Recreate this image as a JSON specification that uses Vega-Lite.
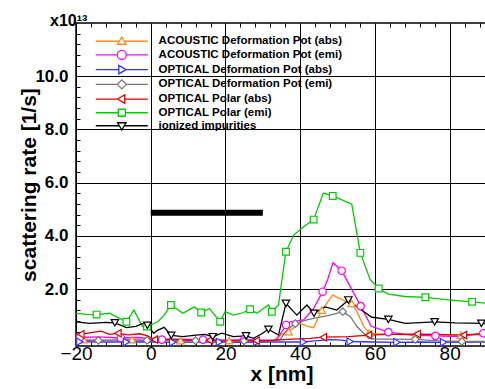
{
  "$schema": "https://vega.github.io/schema/vega-lite/v6.json",
  "width": 411,
  "height": 323,
  "autosize": "none",
  "padding": {"left": 76, "top": 23, "right": 0, "bottom": 43},
  "background": "white",
  "title": {"text": "x10¹³", "anchor": "start", "frame": "group", "dx": -26, "dy": 19, "offset": 0, "fontSize": 16, "fontWeight": "bold", "font": "Liberation Sans", "color": "black", "baseline": "alphabetic"},
  "config": {
    "view": {"stroke": "black", "strokeWidth": 1.5},
    "font": "Liberation Sans",
    "legend": {"orient": "none", "legendX": 39.8, "legendY": 12.25, "title": null, "padding": 0,
      "labelFont": "Liberation Sans", "labelFontSize": 11.5, "labelFontWeight": "bold", "labelColor": "black",
      "labelOffset": 30.8, "rowPadding": -0.3, "labelLimit": 0,
      "symbolSize": 100, "symbolStrokeWidth": 1.3, "symbolFillColor": "white"},
    "point": {"filled": false, "fill": "white", "fillOpacity": 1, "strokeWidth": 1.2, "size": 55, "opacity": 1}
  },
  "datasets": {
    "rates": [
      {"s": "ACOUSTIC Deformation Pot (abs)", "x": -20, "y": 0.1, "m": 0},
      {"s": "ACOUSTIC Deformation Pot (abs)", "x": -18, "y": 0.1, "m": 1},
      {"s": "ACOUSTIC Deformation Pot (abs)", "x": -12, "y": 0.08, "m": 0},
      {"s": "ACOUSTIC Deformation Pot (abs)", "x": -5, "y": 0.1, "m": 1},
      {"s": "ACOUSTIC Deformation Pot (abs)", "x": 0, "y": 0.08, "m": 0},
      {"s": "ACOUSTIC Deformation Pot (abs)", "x": 8, "y": 0.06, "m": 1},
      {"s": "ACOUSTIC Deformation Pot (abs)", "x": 15, "y": 0.07, "m": 0},
      {"s": "ACOUSTIC Deformation Pot (abs)", "x": 21, "y": 0.06, "m": 1},
      {"s": "ACOUSTIC Deformation Pot (abs)", "x": 28, "y": 0.07, "m": 0},
      {"s": "ACOUSTIC Deformation Pot (abs)", "x": 33, "y": 0.08, "m": 0},
      {"s": "ACOUSTIC Deformation Pot (abs)", "x": 35.5, "y": 0.34, "m": 0},
      {"s": "ACOUSTIC Deformation Pot (abs)", "x": 36.9, "y": 0.4, "m": 1},
      {"s": "ACOUSTIC Deformation Pot (abs)", "x": 38.7, "y": 0.59, "m": 0},
      {"s": "ACOUSTIC Deformation Pot (abs)", "x": 40, "y": 0.71, "m": 0},
      {"s": "ACOUSTIC Deformation Pot (abs)", "x": 42, "y": 0.6, "m": 0},
      {"s": "ACOUSTIC Deformation Pot (abs)", "x": 43.6, "y": 0.55, "m": 0},
      {"s": "ACOUSTIC Deformation Pot (abs)", "x": 45.8, "y": 1.21, "m": 1},
      {"s": "ACOUSTIC Deformation Pot (abs)", "x": 48.7, "y": 1.77, "m": 0},
      {"s": "ACOUSTIC Deformation Pot (abs)", "x": 50.5, "y": 1.65, "m": 0},
      {"s": "ACOUSTIC Deformation Pot (abs)", "x": 52.5, "y": 1.52, "m": 0},
      {"s": "ACOUSTIC Deformation Pot (abs)", "x": 53.8, "y": 1.46, "m": 1},
      {"s": "ACOUSTIC Deformation Pot (abs)", "x": 55.2, "y": 1.15, "m": 0},
      {"s": "ACOUSTIC Deformation Pot (abs)", "x": 57, "y": 0.6, "m": 0},
      {"s": "ACOUSTIC Deformation Pot (abs)", "x": 58.5, "y": 0.35, "m": 1},
      {"s": "ACOUSTIC Deformation Pot (abs)", "x": 60, "y": 0.32, "m": 0},
      {"s": "ACOUSTIC Deformation Pot (abs)", "x": 65, "y": 0.3, "m": 0},
      {"s": "ACOUSTIC Deformation Pot (abs)", "x": 71, "y": 0.28, "m": 1},
      {"s": "ACOUSTIC Deformation Pot (abs)", "x": 77, "y": 0.27, "m": 0},
      {"s": "ACOUSTIC Deformation Pot (abs)", "x": 83, "y": 0.27, "m": 1},
      {"s": "ACOUSTIC Deformation Pot (abs)", "x": 90, "y": 0.28, "m": 0},

      {"s": "ACOUSTIC Deformation Pot (emi)", "x": -20, "y": 0.18, "m": 0},
      {"s": "ACOUSTIC Deformation Pot (emi)", "x": -19, "y": 0.18, "m": 1},
      {"s": "ACOUSTIC Deformation Pot (emi)", "x": -14, "y": 0.2, "m": 0},
      {"s": "ACOUSTIC Deformation Pot (emi)", "x": -8, "y": 0.16, "m": 1},
      {"s": "ACOUSTIC Deformation Pot (emi)", "x": -3, "y": 0.18, "m": 0},
      {"s": "ACOUSTIC Deformation Pot (emi)", "x": 0, "y": 0.12, "m": 0},
      {"s": "ACOUSTIC Deformation Pot (emi)", "x": 3, "y": 0.1, "m": 1},
      {"s": "ACOUSTIC Deformation Pot (emi)", "x": 8, "y": 0.12, "m": 0},
      {"s": "ACOUSTIC Deformation Pot (emi)", "x": 14, "y": 0.1, "m": 1},
      {"s": "ACOUSTIC Deformation Pot (emi)", "x": 20, "y": 0.08, "m": 0},
      {"s": "ACOUSTIC Deformation Pot (emi)", "x": 25, "y": 0.1, "m": 1},
      {"s": "ACOUSTIC Deformation Pot (emi)", "x": 30, "y": 0.08, "m": 0},
      {"s": "ACOUSTIC Deformation Pot (emi)", "x": 33.7, "y": 0.09, "m": 0},
      {"s": "ACOUSTIC Deformation Pot (emi)", "x": 36.2, "y": 0.65, "m": 1},
      {"s": "ACOUSTIC Deformation Pot (emi)", "x": 37.3, "y": 0.77, "m": 0},
      {"s": "ACOUSTIC Deformation Pot (emi)", "x": 40.9, "y": 0.84, "m": 0},
      {"s": "ACOUSTIC Deformation Pot (emi)", "x": 43.5, "y": 1.25, "m": 0},
      {"s": "ACOUSTIC Deformation Pot (emi)", "x": 46, "y": 1.9, "m": 1},
      {"s": "ACOUSTIC Deformation Pot (emi)", "x": 47.3, "y": 2.34, "m": 0},
      {"s": "ACOUSTIC Deformation Pot (emi)", "x": 48.8, "y": 2.99, "m": 0},
      {"s": "ACOUSTIC Deformation Pot (emi)", "x": 51.1, "y": 2.69, "m": 1},
      {"s": "ACOUSTIC Deformation Pot (emi)", "x": 53.8, "y": 1.99, "m": 0},
      {"s": "ACOUSTIC Deformation Pot (emi)", "x": 56.2, "y": 1.36, "m": 1},
      {"s": "ACOUSTIC Deformation Pot (emi)", "x": 59, "y": 0.6, "m": 0},
      {"s": "ACOUSTIC Deformation Pot (emi)", "x": 63.6, "y": 0.38, "m": 1},
      {"s": "ACOUSTIC Deformation Pot (emi)", "x": 69.9, "y": 0.27, "m": 0},
      {"s": "ACOUSTIC Deformation Pot (emi)", "x": 76.2, "y": 0.24, "m": 1},
      {"s": "ACOUSTIC Deformation Pot (emi)", "x": 82.4, "y": 0.21, "m": 0},
      {"s": "ACOUSTIC Deformation Pot (emi)", "x": 89, "y": 0.34, "m": 1},
      {"s": "ACOUSTIC Deformation Pot (emi)", "x": 90, "y": 0.35, "m": 0},

      {"s": "OPTICAL Deformation Pot (abs)", "x": -20, "y": 0.02, "m": 0},
      {"s": "OPTICAL Deformation Pot (abs)", "x": -19, "y": 0.02, "m": 1},
      {"s": "OPTICAL Deformation Pot (abs)", "x": -12, "y": 0.01, "m": 0},
      {"s": "OPTICAL Deformation Pot (abs)", "x": -6.5, "y": 0.01, "m": 1},
      {"s": "OPTICAL Deformation Pot (abs)", "x": 0, "y": 0.02, "m": 0},
      {"s": "OPTICAL Deformation Pot (abs)", "x": 5.9, "y": 0.0, "m": 1},
      {"s": "OPTICAL Deformation Pot (abs)", "x": 12, "y": 0.01, "m": 0},
      {"s": "OPTICAL Deformation Pot (abs)", "x": 18.4, "y": 0.01, "m": 1},
      {"s": "OPTICAL Deformation Pot (abs)", "x": 24, "y": 0.0, "m": 0},
      {"s": "OPTICAL Deformation Pot (abs)", "x": 28.4, "y": 0.01, "m": 1},
      {"s": "OPTICAL Deformation Pot (abs)", "x": 35, "y": 0.01, "m": 0},
      {"s": "OPTICAL Deformation Pot (abs)", "x": 40.9, "y": 0.01, "m": 1},
      {"s": "OPTICAL Deformation Pot (abs)", "x": 44, "y": 0.05, "m": 0},
      {"s": "OPTICAL Deformation Pot (abs)", "x": 48, "y": 0.1, "m": 0},
      {"s": "OPTICAL Deformation Pot (abs)", "x": 51, "y": 0.08, "m": 0},
      {"s": "OPTICAL Deformation Pot (abs)", "x": 53.4, "y": 0.03, "m": 1},
      {"s": "OPTICAL Deformation Pot (abs)", "x": 60, "y": 0.01, "m": 0},
      {"s": "OPTICAL Deformation Pot (abs)", "x": 65.9, "y": 0.0, "m": 1},
      {"s": "OPTICAL Deformation Pot (abs)", "x": 72, "y": 0.01, "m": 0},
      {"s": "OPTICAL Deformation Pot (abs)", "x": 78.4, "y": 0.0, "m": 1},
      {"s": "OPTICAL Deformation Pot (abs)", "x": 84, "y": 0.01, "m": 0},
      {"s": "OPTICAL Deformation Pot (abs)", "x": 90, "y": 0.01, "m": 0},

      {"s": "OPTICAL Deformation Pot (emi)", "x": -20, "y": 0.08, "m": 0},
      {"s": "OPTICAL Deformation Pot (emi)", "x": -14, "y": 0.07, "m": 1},
      {"s": "OPTICAL Deformation Pot (emi)", "x": -7, "y": 0.09, "m": 0},
      {"s": "OPTICAL Deformation Pot (emi)", "x": -1, "y": 0.07, "m": 1},
      {"s": "OPTICAL Deformation Pot (emi)", "x": 5, "y": 0.05, "m": 0},
      {"s": "OPTICAL Deformation Pot (emi)", "x": 12, "y": 0.06, "m": 1},
      {"s": "OPTICAL Deformation Pot (emi)", "x": 18, "y": 0.04, "m": 0},
      {"s": "OPTICAL Deformation Pot (emi)", "x": 25, "y": 0.05, "m": 1},
      {"s": "OPTICAL Deformation Pot (emi)", "x": 31, "y": 0.05, "m": 0},
      {"s": "OPTICAL Deformation Pot (emi)", "x": 34.6, "y": 0.09, "m": 0},
      {"s": "OPTICAL Deformation Pot (emi)", "x": 36.4, "y": 0.46, "m": 0},
      {"s": "OPTICAL Deformation Pot (emi)", "x": 38.7, "y": 0.7, "m": 1},
      {"s": "OPTICAL Deformation Pot (emi)", "x": 41.8, "y": 0.84, "m": 0},
      {"s": "OPTICAL Deformation Pot (emi)", "x": 43.6, "y": 0.9, "m": 0},
      {"s": "OPTICAL Deformation Pot (emi)", "x": 48, "y": 1.02, "m": 0},
      {"s": "OPTICAL Deformation Pot (emi)", "x": 51.4, "y": 1.15, "m": 1},
      {"s": "OPTICAL Deformation Pot (emi)", "x": 53.5, "y": 0.95, "m": 0},
      {"s": "OPTICAL Deformation Pot (emi)", "x": 55.2, "y": 0.59, "m": 0},
      {"s": "OPTICAL Deformation Pot (emi)", "x": 58.3, "y": 0.15, "m": 0},
      {"s": "OPTICAL Deformation Pot (emi)", "x": 60, "y": 0.12, "m": 0},
      {"s": "OPTICAL Deformation Pot (emi)", "x": 65, "y": 0.12, "m": 0},
      {"s": "OPTICAL Deformation Pot (emi)", "x": 70.8, "y": 0.11, "m": 1},
      {"s": "OPTICAL Deformation Pot (emi)", "x": 77, "y": 0.05, "m": 0},
      {"s": "OPTICAL Deformation Pot (emi)", "x": 83.3, "y": 0.03, "m": 1},
      {"s": "OPTICAL Deformation Pot (emi)", "x": 90, "y": 0.03, "m": 0},

      {"s": "OPTICAL Polar (abs)", "x": -20, "y": 0.3, "m": 0},
      {"s": "OPTICAL Polar (abs)", "x": -18.7, "y": 0.3, "m": 1},
      {"s": "OPTICAL Polar (abs)", "x": -16, "y": 0.36, "m": 0},
      {"s": "OPTICAL Polar (abs)", "x": -13.3, "y": 0.42, "m": 0},
      {"s": "OPTICAL Polar (abs)", "x": -11, "y": 0.3, "m": 0},
      {"s": "OPTICAL Polar (abs)", "x": -8.8, "y": 0.34, "m": 1},
      {"s": "OPTICAL Polar (abs)", "x": -6, "y": 0.28, "m": 0},
      {"s": "OPTICAL Polar (abs)", "x": -3, "y": 0.32, "m": 0},
      {"s": "OPTICAL Polar (abs)", "x": -1, "y": 0.25, "m": 0},
      {"s": "OPTICAL Polar (abs)", "x": 1, "y": 0.1, "m": 1},
      {"s": "OPTICAL Polar (abs)", "x": 5, "y": 0.12, "m": 0},
      {"s": "OPTICAL Polar (abs)", "x": 10, "y": 0.08, "m": 0},
      {"s": "OPTICAL Polar (abs)", "x": 15.7, "y": 0.08, "m": 1},
      {"s": "OPTICAL Polar (abs)", "x": 20, "y": 0.06, "m": 0},
      {"s": "OPTICAL Polar (abs)", "x": 24, "y": 0.05, "m": 0},
      {"s": "OPTICAL Polar (abs)", "x": 28.2, "y": 0.06, "m": 1},
      {"s": "OPTICAL Polar (abs)", "x": 32, "y": 0.05, "m": 0},
      {"s": "OPTICAL Polar (abs)", "x": 34.2, "y": 0.09, "m": 0},
      {"s": "OPTICAL Polar (abs)", "x": 38, "y": 0.12, "m": 0},
      {"s": "OPTICAL Polar (abs)", "x": 42.7, "y": 0.15, "m": 0},
      {"s": "OPTICAL Polar (abs)", "x": 46.2, "y": 0.19, "m": 1},
      {"s": "OPTICAL Polar (abs)", "x": 52.9, "y": 0.21, "m": 0},
      {"s": "OPTICAL Polar (abs)", "x": 58.3, "y": 0.27, "m": 1},
      {"s": "OPTICAL Polar (abs)", "x": 64, "y": 0.3, "m": 0},
      {"s": "OPTICAL Polar (abs)", "x": 71.3, "y": 0.31, "m": 1},
      {"s": "OPTICAL Polar (abs)", "x": 77, "y": 0.3, "m": 0},
      {"s": "OPTICAL Polar (abs)", "x": 83.7, "y": 0.27, "m": 1},
      {"s": "OPTICAL Polar (abs)", "x": 90, "y": 0.34, "m": 0},

      {"s": "OPTICAL Polar (emi)", "x": -20, "y": 1.09, "m": 0},
      {"s": "OPTICAL Polar (emi)", "x": -17, "y": 1.05, "m": 0},
      {"s": "OPTICAL Polar (emi)", "x": -14.5, "y": 1.04, "m": 1},
      {"s": "OPTICAL Polar (emi)", "x": -11.1, "y": 1.09, "m": 0},
      {"s": "OPTICAL Polar (emi)", "x": -7.5, "y": 0.84, "m": 0},
      {"s": "OPTICAL Polar (emi)", "x": -6.5, "y": 0.77, "m": 1},
      {"s": "OPTICAL Polar (emi)", "x": -4.5, "y": 1.21, "m": 0},
      {"s": "OPTICAL Polar (emi)", "x": -2.2, "y": 0.59, "m": 0},
      {"s": "OPTICAL Polar (emi)", "x": -1, "y": 0.59, "m": 1},
      {"s": "OPTICAL Polar (emi)", "x": 1.9, "y": 0.77, "m": 0},
      {"s": "OPTICAL Polar (emi)", "x": 3.5, "y": 1.0, "m": 0},
      {"s": "OPTICAL Polar (emi)", "x": 5.4, "y": 1.4, "m": 1},
      {"s": "OPTICAL Polar (emi)", "x": 8.6, "y": 1.09, "m": 0},
      {"s": "OPTICAL Polar (emi)", "x": 11.7, "y": 1.33, "m": 0},
      {"s": "OPTICAL Polar (emi)", "x": 13.5, "y": 1.12, "m": 1},
      {"s": "OPTICAL Polar (emi)", "x": 15.7, "y": 1.27, "m": 0},
      {"s": "OPTICAL Polar (emi)", "x": 18.6, "y": 0.77, "m": 1},
      {"s": "OPTICAL Polar (emi)", "x": 19.9, "y": 1.15, "m": 0},
      {"s": "OPTICAL Polar (emi)", "x": 22.1, "y": 1.02, "m": 0},
      {"s": "OPTICAL Polar (emi)", "x": 24.5, "y": 1.1, "m": 0},
      {"s": "OPTICAL Polar (emi)", "x": 26.6, "y": 1.24, "m": 1},
      {"s": "OPTICAL Polar (emi)", "x": 28.4, "y": 1.09, "m": 0},
      {"s": "OPTICAL Polar (emi)", "x": 31.5, "y": 1.4, "m": 0},
      {"s": "OPTICAL Polar (emi)", "x": 32.4, "y": 1.15, "m": 1},
      {"s": "OPTICAL Polar (emi)", "x": 34.2, "y": 1.4, "m": 0},
      {"s": "OPTICAL Polar (emi)", "x": 35.1, "y": 2.34, "m": 0},
      {"s": "OPTICAL Polar (emi)", "x": 36.2, "y": 3.4, "m": 1},
      {"s": "OPTICAL Polar (emi)", "x": 38.2, "y": 4.02, "m": 0},
      {"s": "OPTICAL Polar (emi)", "x": 41, "y": 4.35, "m": 0},
      {"s": "OPTICAL Polar (emi)", "x": 43.6, "y": 4.61, "m": 1},
      {"s": "OPTICAL Polar (emi)", "x": 46.2, "y": 5.61, "m": 0},
      {"s": "OPTICAL Polar (emi)", "x": 48.7, "y": 5.5, "m": 1},
      {"s": "OPTICAL Polar (emi)", "x": 53.8, "y": 5.19, "m": 0},
      {"s": "OPTICAL Polar (emi)", "x": 56.1, "y": 3.36, "m": 1},
      {"s": "OPTICAL Polar (emi)", "x": 58.7, "y": 2.36, "m": 0},
      {"s": "OPTICAL Polar (emi)", "x": 61, "y": 2.02, "m": 1},
      {"s": "OPTICAL Polar (emi)", "x": 63.6, "y": 1.81, "m": 0},
      {"s": "OPTICAL Polar (emi)", "x": 68, "y": 1.72, "m": 0},
      {"s": "OPTICAL Polar (emi)", "x": 73.5, "y": 1.69, "m": 1},
      {"s": "OPTICAL Polar (emi)", "x": 79.7, "y": 1.59, "m": 0},
      {"s": "OPTICAL Polar (emi)", "x": 86, "y": 1.52, "m": 1},
      {"s": "OPTICAL Polar (emi)", "x": 90, "y": 1.46, "m": 0},

      {"s": "ionized impurities", "x": -20, "y": 0.77, "m": 0},
      {"s": "ionized impurities", "x": -16.4, "y": 0.71, "m": 0},
      {"s": "ionized impurities", "x": -12, "y": 0.75, "m": 0},
      {"s": "ionized impurities", "x": -9.6, "y": 0.73, "m": 1},
      {"s": "ionized impurities", "x": -6.5, "y": 0.55, "m": 0},
      {"s": "ionized impurities", "x": -4, "y": 0.6, "m": 0},
      {"s": "ionized impurities", "x": -2, "y": 0.71, "m": 0},
      {"s": "ionized impurities", "x": -0.9, "y": 0.64, "m": 1},
      {"s": "ionized impurities", "x": 0.8, "y": 0.34, "m": 0},
      {"s": "ionized impurities", "x": 1.8, "y": 0.45, "m": 0},
      {"s": "ionized impurities", "x": 3.6, "y": 0.56, "m": 0},
      {"s": "ionized impurities", "x": 5.5, "y": 0.26, "m": 1},
      {"s": "ionized impurities", "x": 8.6, "y": 0.21, "m": 0},
      {"s": "ionized impurities", "x": 12.1, "y": 0.27, "m": 0},
      {"s": "ionized impurities", "x": 14.5, "y": 0.3, "m": 0},
      {"s": "ionized impurities", "x": 16.6, "y": 0.21, "m": 1},
      {"s": "ionized impurities", "x": 19, "y": 0.34, "m": 0},
      {"s": "ionized impurities", "x": 22.1, "y": 0.21, "m": 0},
      {"s": "ionized impurities", "x": 25.5, "y": 0.24, "m": 1},
      {"s": "ionized impurities", "x": 27.5, "y": 0.15, "m": 0},
      {"s": "ionized impurities", "x": 29.5, "y": 0.3, "m": 0},
      {"s": "ionized impurities", "x": 31.5, "y": 0.49, "m": 1},
      {"s": "ionized impurities", "x": 34.2, "y": 0.27, "m": 0},
      {"s": "ionized impurities", "x": 36.2, "y": 1.46, "m": 1},
      {"s": "ionized impurities", "x": 39.1, "y": 1.02, "m": 0},
      {"s": "ionized impurities", "x": 41.8, "y": 1.4, "m": 0},
      {"s": "ionized impurities", "x": 43.7, "y": 1.09, "m": 1},
      {"s": "ionized impurities", "x": 46.7, "y": 1.33, "m": 0},
      {"s": "ionized impurities", "x": 49.8, "y": 1.21, "m": 0},
      {"s": "ionized impurities", "x": 52.9, "y": 1.59, "m": 1},
      {"s": "ionized impurities", "x": 56, "y": 1.25, "m": 0},
      {"s": "ionized impurities", "x": 59.2, "y": 0.94, "m": 0},
      {"s": "ionized impurities", "x": 63.6, "y": 0.86, "m": 1},
      {"s": "ionized impurities", "x": 68.1, "y": 0.71, "m": 0},
      {"s": "ionized impurities", "x": 72, "y": 0.74, "m": 0},
      {"s": "ionized impurities", "x": 76, "y": 0.77, "m": 1},
      {"s": "ionized impurities", "x": 81.5, "y": 0.73, "m": 0},
      {"s": "ionized impurities", "x": 88.5, "y": 0.71, "m": 1},
      {"s": "ionized impurities", "x": 90, "y": 0.7, "m": 0}
    ],
    "bar": [{"x0": 0, "x1": 30, "y": 4.87}]
  },
  "resolve": {"axis": {"x": "independent", "y": "independent"}},
  "layer": [
    {
      "data": {"name": "rates"},
      "mark": {"type": "line", "strokeWidth": 1.3, "clip": true},
      "encoding": {
        "x": {"field": "x", "type": "quantitative",
          "scale": {"domain": [-20, 90], "nice": false, "zero": false},
          "axis": {"orient": "bottom",
            "values": [-20,-16,-12,-8,-4,0,4,8,12,16,20,24,28,32,36,40,44,48,52,56,60,64,68,72,76,80,84,88],
            "format": "d",
            "labelExpr": "datum.value % 20 === 0 ? datum.label : ''",
            "grid": true, "gridColor": "black", "gridWidth": 1,
            "gridOpacity": {"condition": {"test": "datum.value % 20 === 0", "value": 1}, "value": 0},
            "domain": false, "ticks": true, "tickSize": -4, "tickColor": "black", "tickWidth": 1,
            "labelFont": "Liberation Sans", "labelFontSize": 19, "labelColor": "black", "labelPadding": 2,
            "labelFlush": false, "labelOverlap": false,
            "title": "x [nm]", "titleFont": "Liberation Sans", "titleFontSize": 21, "titleFontWeight": "bold", "titleColor": "black", "titlePadding": 0}},
        "y": {"field": "y", "type": "quantitative",
          "scale": {"domain": [-0.14, 12], "nice": false, "zero": false},
          "axis": {"orient": "left",
            "values": [0,0.4,0.8,1.2,1.6,2,2.4,2.8,3.2,3.6,4,4.4,4.8,5.2,5.6,6,6.4,6.8,7.2,7.6,8,8.4,8.8,9.2,9.6,10,10.4,10.8,11.2,11.6],
            "labelExpr": "(abs(datum.value - 2*round(datum.value/2)) < 0.01 && datum.value > 1) ? format(datum.value, '.1f') : ''",
            "grid": true, "gridColor": "black", "gridWidth": 1,
            "gridOpacity": {"condition": {"test": "abs(datum.value - 2*round(datum.value/2)) < 0.01 && datum.value > 1", "value": 1}, "value": 0},
            "domain": false, "ticks": true, "tickSize": -4, "tickColor": "black", "tickWidth": 1,
            "labelFont": "Liberation Sans", "labelFontSize": 17, "labelFontWeight": "bold", "labelColor": "black", "labelPadding": 12,
            "labelFlush": false, "labelOverlap": false,
            "title": "scattering rate [1/s]", "titleFont": "Liberation Sans", "titleFontSize": 21, "titleFontWeight": "bold", "titleColor": "black", "titlePadding": -5}},
        "color": {"field": "s", "type": "nominal",
          "scale": {"domain": ["ACOUSTIC Deformation Pot (abs)", "ACOUSTIC Deformation Pot (emi)", "OPTICAL Deformation Pot (abs)", "OPTICAL Deformation Pot (emi)", "OPTICAL Polar (abs)", "OPTICAL Polar (emi)", "ionized impurities"],
            "range": ["#ff8a1c", "#ff00ff", "#3333ff", "#777777", "#dd0000", "#00cc00", "#000000"]},
          "legend": {
            "encode": {"symbols": {"update": {
              "fill": {"value": "white"},
              "strokeWidth": {"value": 1.3},
              "shape": {"signal": "['M-5.2,0H-0.5M0.5,0H5.2M0,-0.85L0.85,0.6L-0.85,0.6Z', 'M-5.2,0H-0.9M0.9,0H5.2M-0.9,0A0.9,0.9 0 1,0 0.9,0A0.9,0.9 0 1,0 -0.9,0Z', 'M-5.2,0H-0.6M0.85,0H5.2M0.85,0L-0.6,-0.85L-0.6,0.85Z', 'M-5.2,0H-0.9M0.9,0H5.2M0,-0.9L0.9,0L0,0.9L-0.9,0Z', 'M-5.2,0H-0.85M0.6,0H5.2M-0.85,0L0.6,-0.85L0.6,0.85Z', 'M-5.2,0H-0.7M0.7,0H5.2M-0.7,-0.7H0.7V0.7H-0.7Z', 'M-5.2,0H-0.5M0.5,0H5.2M0,0.85L0.85,-0.6L-0.85,-0.6Z'][indexof(['ACOUSTIC Deformation Pot (abs)', 'ACOUSTIC Deformation Pot (emi)', 'OPTICAL Deformation Pot (abs)', 'OPTICAL Deformation Pot (emi)', 'OPTICAL Polar (abs)', 'OPTICAL Polar (emi)', 'ionized impurities'], datum.value)]"}
            }}}}}
      }
    },
    {
      "data": {"name": "rates"},
      "transform": [{"filter": "datum.m == 1 && datum.s == 'ACOUSTIC Deformation Pot (abs)'"}],
      "mark": {"type": "point", "shape": "triangle-up"},
      "encoding": {
        "x": {"field": "x", "type": "quantitative", "scale": {"domain": [-20, 90], "nice": false, "zero": false},
          "axis": {"orient": "top",
            "values": [-20,-16,-12,-8,-4,0,4,8,12,16,20,24,28,32,36,40,44,48,52,56,60,64,68,72,76,80,84,88],
            "labels": false, "grid": false, "domain": false, "ticks": true, "tickSize": -4, "tickColor": "black", "title": null}},
        "y": {"field": "y", "type": "quantitative", "scale": {"domain": [-0.14, 12], "nice": false, "zero": false}, "axis": null},
        "color": {"field": "s", "type": "nominal", "legend": null}
      }
    },
    {
      "data": {"name": "rates"},
      "transform": [{"filter": "datum.m == 1 && datum.s == 'ACOUSTIC Deformation Pot (emi)'"}],
      "mark": {"type": "point", "shape": "circle"},
      "encoding": {
        "x": {"field": "x", "type": "quantitative", "scale": {"domain": [-20, 90], "nice": false, "zero": false}, "axis": null},
        "y": {"field": "y", "type": "quantitative", "scale": {"domain": [-0.14, 12], "nice": false, "zero": false}, "axis": null},
        "color": {"field": "s", "type": "nominal", "legend": null}
      }
    },
    {
      "data": {"name": "rates"},
      "transform": [{"filter": "datum.m == 1 && datum.s == 'OPTICAL Deformation Pot (abs)'"}],
      "mark": {"type": "point", "shape": "triangle-right"},
      "encoding": {
        "x": {"field": "x", "type": "quantitative", "scale": {"domain": [-20, 90], "nice": false, "zero": false}, "axis": null},
        "y": {"field": "y", "type": "quantitative", "scale": {"domain": [-0.14, 12], "nice": false, "zero": false}, "axis": null},
        "color": {"field": "s", "type": "nominal", "legend": null}
      }
    },
    {
      "data": {"name": "rates"},
      "transform": [{"filter": "datum.m == 1 && datum.s == 'OPTICAL Deformation Pot (emi)'"}],
      "mark": {"type": "point", "shape": "diamond"},
      "encoding": {
        "x": {"field": "x", "type": "quantitative", "scale": {"domain": [-20, 90], "nice": false, "zero": false}, "axis": null},
        "y": {"field": "y", "type": "quantitative", "scale": {"domain": [-0.14, 12], "nice": false, "zero": false}, "axis": null},
        "color": {"field": "s", "type": "nominal", "legend": null}
      }
    },
    {
      "data": {"name": "rates"},
      "transform": [{"filter": "datum.m == 1 && datum.s == 'OPTICAL Polar (abs)'"}],
      "mark": {"type": "point", "shape": "triangle-left"},
      "encoding": {
        "x": {"field": "x", "type": "quantitative", "scale": {"domain": [-20, 90], "nice": false, "zero": false}, "axis": null},
        "y": {"field": "y", "type": "quantitative", "scale": {"domain": [-0.14, 12], "nice": false, "zero": false}, "axis": null},
        "color": {"field": "s", "type": "nominal", "legend": null}
      }
    },
    {
      "data": {"name": "rates"},
      "transform": [{"filter": "datum.m == 1 && datum.s == 'OPTICAL Polar (emi)'"}],
      "mark": {"type": "point", "shape": "square", "size": 45},
      "encoding": {
        "x": {"field": "x", "type": "quantitative", "scale": {"domain": [-20, 90], "nice": false, "zero": false}, "axis": null},
        "y": {"field": "y", "type": "quantitative", "scale": {"domain": [-0.14, 12], "nice": false, "zero": false}, "axis": null},
        "color": {"field": "s", "type": "nominal", "legend": null}
      }
    },
    {
      "data": {"name": "rates"},
      "transform": [{"filter": "datum.m == 1 && datum.s == 'ionized impurities'"}],
      "mark": {"type": "point", "shape": "triangle-down"},
      "encoding": {
        "x": {"field": "x", "type": "quantitative", "scale": {"domain": [-20, 90], "nice": false, "zero": false}, "axis": null},
        "y": {"field": "y", "type": "quantitative", "scale": {"domain": [-0.14, 12], "nice": false, "zero": false}, "axis": null},
        "color": {"field": "s", "type": "nominal", "legend": null}
      }
    },
    {
      "data": {"name": "bar"},
      "mark": {"type": "rule", "strokeWidth": 6, "color": "black", "strokeCap": "butt"},
      "encoding": {
        "x": {"field": "x0", "type": "quantitative", "scale": {"domain": [-20, 90], "nice": false, "zero": false}, "axis": null},
        "x2": {"field": "x1"},
        "y": {"field": "y", "type": "quantitative", "scale": {"domain": [-0.14, 12], "nice": false, "zero": false}, "axis": null}
      }
    }
  ]
}
